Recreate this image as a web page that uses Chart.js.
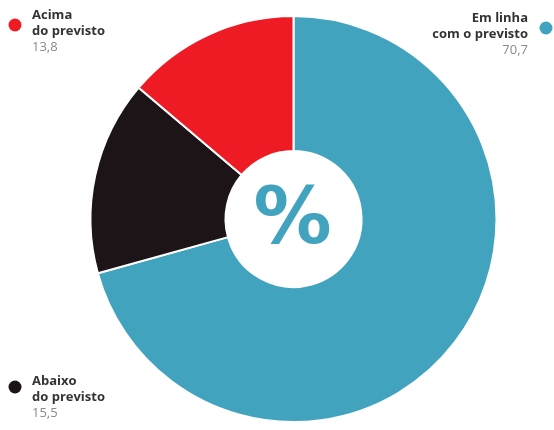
<!DOCTYPE html>
<html>
<head>
<meta charset="utf-8">
<script src="https://cdn.jsdelivr.net/npm/chart.js@4"></script>
<style>
  html, body { margin: 0; padding: 0; background: #fff; }
  #wrap { width: 554px; height: 430px; }
</style>
</head>
<body>
<div id="wrap"><canvas id="resultChart" width="554" height="430"></canvas></div>
<script>
  // categorias e valores (%)
  const categorias = [
    ["Em linha", "com o previsto"],
    ["Abaixo", "do previsto"],
    ["Acima", "do previsto"],
  ];
  const valores = [70.7, 15.5, 13.8];
  const cores = ["#42a3bf", "#1c1416", "#ee1b24"];

  const fmt = (v) => v.toFixed(1).replace(".", ",");

  // rótulos fora da rosca (posição de cada bloco de texto)
  const posRotulos = [
    { x: 528, y: 18, align: "right", dotX: 546, dotY: 28 },
    { x: 32, y: 381, align: "left", dotX: 15, dotY: 387 },
    { x: 32, y: 15, align: "left", dotX: 15, dotY: 25 },
  ];

  const rotulosPlugin = {
    id: "rotulos",
    afterDraw(chart) {
      const ctx = chart.ctx;
      const ds = chart.data.datasets[0];
      ctx.save();
      chart.data.labels.forEach((linhas, i) => {
        const p = posRotulos[i];
        ctx.fillStyle = ds.backgroundColor[i];
        ctx.beginPath();
        ctx.arc(p.dotX, p.dotY, 6.5, 0, Math.PI * 2);
        ctx.fill();
        ctx.textAlign = p.align;
        ctx.textBaseline = "middle";
        ctx.font = "bold 13px 'Open Sans', sans-serif";
        ctx.fillStyle = "#333333";
        linhas.forEach((t, k) => ctx.fillText(t, p.x, p.y + k * 16));
        ctx.font = "13px 'Open Sans', sans-serif";
        ctx.fillStyle = "#8a8a8a";
        ctx.fillText(fmt(ds.data[i]), p.x, p.y + linhas.length * 16);
      });
      // símbolo central
      const arc = chart.getDatasetMeta(0).data[0];
      ctx.fillStyle = cores[0];
      ctx.textAlign = "center";
      ctx.textBaseline = "middle";
      ctx.font = "bold 78px 'DejaVu Sans', sans-serif";
      ctx.fillText("%", arc.x - 1, arc.y + 4);
      ctx.restore();
    },
  };

  const ctx = document.getElementById("resultChart").getContext("2d");
  const chart = new Chart(ctx, {
    type: "doughnut",
    data: {
      labels: categorias,
      datasets: [
        {
          data: valores,
          backgroundColor: cores,
          borderColor: "#ffffff",
          borderWidth: 2,
        },
      ],
    },
    options: {
      responsive: false,
      animation: false,
      cutout: "33.5%",
      layout: { padding: { top: 15, bottom: 7, left: 40, right: 7 } },
      plugins: {
        legend: { display: false },
        tooltip: { enabled: false },
      },
    },
    plugins: [rotulosPlugin],
  });
</script>
</body>
</html>
